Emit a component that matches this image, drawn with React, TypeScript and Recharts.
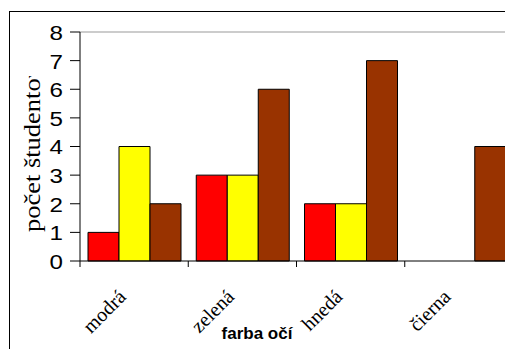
import { BarChart, Bar, XAxis, YAxis, ReferenceLine } from 'recharts';

const categories = ['modrá', 'zelená', 'hnedá', 'čierna'];
const seriesRed = [1, 3, 2, 0];
const seriesYellow = [4, 3, 2, 0];
const seriesBrown = [2, 6, 7, 4];
const yTicks = [0, 1, 2, 3, 4, 5, 6, 7, 8];

const data = categories.map((name, i) => ({
  name,
  red: seriesRed[i],
  yellow: seriesYellow[i],
  brown: seriesBrown[i],
}));

const serif = '"Liberation Serif", "Times New Roman", serif';
const sans = '"Liberation Sans", Arial, sans-serif';

function XTick(props: any) {
  const { x, y, payload } = props;
  const bx = x - (payload.offset ?? 0);
  const lx = x - 7;
  const ly = y + 37;
  return (
    <g>
      <line x1={bx} y1={y} x2={bx} y2={y + 6} stroke="#000" />
      <text
        x={lx}
        y={ly}
        textAnchor="end"
        fontFamily={serif}
        fontSize={20}
        fill="#000"
        transform={`rotate(-45, ${lx}, ${ly})`}
      >
        {payload.value}
      </text>
    </g>
  );
}

function YTick(props: any) {
  const { x, y, payload } = props;
  return (
    <text
      x={x}
      y={y}
      dy={8}
      textAnchor="end"
      fontFamily={sans}
      fontSize={21}
      fill="#000"
      transform={`translate(${x}, 0) scale(1.15, 1) translate(${-x}, 0)`}
    >
      {payload.value}
    </text>
  );
}

function YTitle(props: any) {
  const { viewBox } = props;
  const cx = viewBox.x + 40;
  const cy = viewBox.y + 200;
  return (
    <g>
      <defs>
        <clipPath id="ytitle-clip">
          <rect x={0} y={76} width={80} height={260} />
        </clipPath>
      </defs>
      <g clipPath="url(#ytitle-clip)">
        <text
          x={cx}
          y={cy}
          textAnchor="start"
          fontFamily={serif}
          fontSize={26.5}
          fill="#000"
          transform={`rotate(-90, ${cx}, ${cy}) scale(1, 0.85) translate(0, ${cy / 0.85 - cy})`}
        >
          počet študentov
        </text>
      </g>
    </g>
  );
}

function XTitle(props: any) {
  const { viewBox } = props;
  return (
    <text
      x={viewBox.x + 177}
      y={339}
      textAnchor="middle"
      fontFamily={sans}
      fontWeight="bold"
      fontSize={17}
      fill="#000"
    >
      farba očí
    </text>
  );
}

export default function App() {
  return (
    <div style={{ position: 'absolute', left: 0, top: 0, width: 505, height: 349, overflow: 'hidden', background: '#fff' }}>
      <div
        style={{
          position: 'absolute',
          left: 9,
          top: 11,
          width: 560,
          height: 400,
          border: '1px solid #000',
          boxSizing: 'border-box',
        }}
      />
      <div style={{ position: 'absolute', left: 0, top: 0 }}>
        <BarChart
          width={513}
          height={349}
          data={data}
          margin={{ top: 32, right: 0, bottom: 0, left: 0 }}
          barCategoryGap={8}
          barGap={0}
        >
          <XAxis
            dataKey="name"
            height={88}
            axisLine={{ stroke: '#000' }}
            tickLine={false}
            tickSize={0}
            tickMargin={0}
            tick={<XTick />}
            interval={0}
            label={<XTitle />}
          />
          <YAxis
            width={80}
            domain={[0, 8]}
            ticks={yTicks}
            interval={0}
            axisLine={{ stroke: '#000' }}
            tickLine={{ stroke: '#000' }}
            tickSize={10}
            tickMargin={7}
            tick={<YTick />}
            label={<YTitle />}
          />
          <ReferenceLine y={8} stroke="#999" />
          <Bar dataKey="red" fill="#ff0000" stroke="#000" strokeWidth={1} isAnimationActive={false} />
          <Bar dataKey="yellow" fill="#ffff00" stroke="#000" strokeWidth={1} isAnimationActive={false} />
          <Bar dataKey="brown" fill="#993300" stroke="#000" strokeWidth={1} isAnimationActive={false} />
        </BarChart>
      </div>
    </div>
  );
}
